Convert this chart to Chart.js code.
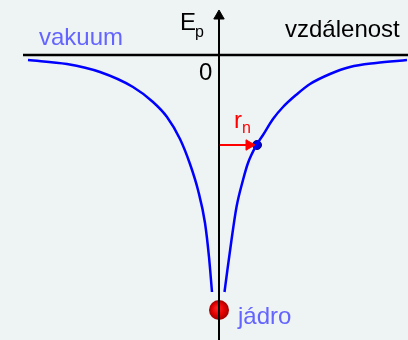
<!DOCTYPE html>
<html>
<head>
<meta charset="utf-8">
<script src="https://cdn.jsdelivr.net/npm/chart.js@4"></script>
<style>
  html, body { margin: 0; padding: 0; background: #eef3f3; }
  #wrap { width: 408px; height: 340px; }
</style>
</head>
<body>
<div id="wrap"><canvas id="chart"></canvas></div>
<script>
// potential energy curve, left and right of the nucleus (distance, Ep)
const leftX  = [-191, -152, -119, -86, -66, -52, -39, -29, -21, -14, -10, -7];
const leftY  = [-5, -9, -17, -32, -47, -62, -84, -109, -135, -168, -202, -237];
const rightX = [5.5, 8, 12.5, 17.5, 24, 29, 37.5, 44, 54, 64, 77, 91, 111, 131, 157, 188];
const rightY = [-237, -218, -185, -152, -125, -108, -90, -80, -64, -52, -40, -29, -19, -12, -8, -5];

// marked orbit radius r_n and its energy
const orbitR = 38;
const orbitE = -90;
const nucleusE = -255;

const axisLabels = { x: 'vzdálenost', y: 'E', ySub: 'p', zero: '0' };
const noteLabels = { vacuum: 'vakuum', nucleus: 'jádro', radius: 'r', radiusSub: 'n' };

const toPts = (xs, ys) => xs.map((x, i) => ({ x, y: ys[i] }));

const curveColor = '#0000ff';
const labelBlue = '#6464ff';
const FONT = '"Liberation Sans", Arial, sans-serif';

const labelsPlugin = {
    id: 'labels',
    afterDatasetsDraw(chart) {
        const { ctx, scales: { x, y } } = chart;
        const px = v => x.getPixelForValue(v);
        const py = v => y.getPixelForValue(v);
        ctx.save();
        ctx.textBaseline = 'alphabetic';
        ctx.textAlign = 'left';

        ctx.font = '24px ' + FONT;
        ctx.fillStyle = labelBlue;
        ctx.fillText(noteLabels.vacuum, px(-180), py(10));
        ctx.fillText(noteLabels.nucleus, px(19), py(nucleusE - 14));

        ctx.fillStyle = '#000';
        ctx.fillText(axisLabels.x, px(66), py(18));
        ctx.fillText(axisLabels.y, px(-39), py(25));
        ctx.fillText(axisLabels.zero, px(-20), py(-25));
        ctx.font = '16px ' + FONT;
        ctx.fillText(axisLabels.ySub, px(-24), py(18));

        ctx.fillStyle = '#ff0000';
        ctx.font = '24px ' + FONT;
        ctx.fillText(noteLabels.radius, px(15), py(orbitE + 17));
        ctx.font = '16px ' + FONT;
        ctx.fillText(noteLabels.radiusSub, px(23), py(orbitE + 12));
        ctx.restore();
    }
};

new Chart(document.getElementById('chart'), {
    type: 'scatter',
    data: {
        datasets: [
            {   // horizontal axis
                data: [{ x: -196, y: 0 }, { x: 189, y: 0 }],
                showLine: true, borderColor: '#000', borderWidth: 2.5, pointRadius: 0
            },
            {   // vertical axis
                data: [{ x: 0, y: -290 }, { x: 0, y: 38 }],
                showLine: true, borderColor: '#000', borderWidth: 2, pointRadius: 0
            },
            {   // arrow head of the vertical axis
                data: [{ x: 0, y: 39 }],
                pointStyle: 'triangle', pointRadius: 6, backgroundColor: '#000',
                borderColor: '#000', borderWidth: 1
            },
            {
                data: toPts(leftX, leftY),
                showLine: true, borderColor: curveColor, borderWidth: 2.5,
                pointRadius: 0, cubicInterpolationMode: 'monotone'
            },
            {
                data: toPts(rightX, rightY),
                showLine: true, borderColor: curveColor, borderWidth: 2.5,
                pointRadius: 0, cubicInterpolationMode: 'monotone'
            },
            {   // r_n arrow
                data: [{ x: 0, y: orbitE }, { x: 30, y: orbitE }],
                showLine: true, borderColor: '#ff0000', borderWidth: 2, pointRadius: 0
            },
            {
                data: [{ x: 30, y: orbitE }],
                pointStyle: 'triangle', rotation: 90, pointRadius: 6,
                backgroundColor: '#ff0000', borderColor: '#ff0000', borderWidth: 1
            },
            {   // electron on the curve
                data: [{ x: orbitR, y: orbitE }],
                pointRadius: 4.5, backgroundColor: '#0000d0', borderColor: '#00008a', borderWidth: 1
            },
            {   // nucleus
                data: [{ x: 0, y: nucleusE }],
                pointRadius: 10, borderWidth: 0,
                backgroundColor: (c) => {
                    const ch = c.chart;
                    if (!ch.chartArea) return '#e00000';
                    const cx = ch.scales.x.getPixelForValue(0);
                    const cy = ch.scales.y.getPixelForValue(nucleusE);
                    const g = ch.ctx.createRadialGradient(cx - 2, cy - 2, 1, cx, cy, 10);
                    g.addColorStop(0, '#ff2020');
                    g.addColorStop(0.6, '#e00000');
                    g.addColorStop(1, '#a00000');
                    return g;
                }
            }
        ]
    },
    options: {
        responsive: true,
        maintainAspectRatio: false,
        animation: false,
        layout: { padding: 0, autoPadding: false },
        plugins: { legend: { display: false }, tooltip: { enabled: false } },
        scales: {
            x: { type: 'linear', min: -219, max: 189, display: false },
            y: { type: 'linear', min: -285, max: 55, display: false }
        }
    },
    plugins: [labelsPlugin]
});
</script>
</body>
</html>
